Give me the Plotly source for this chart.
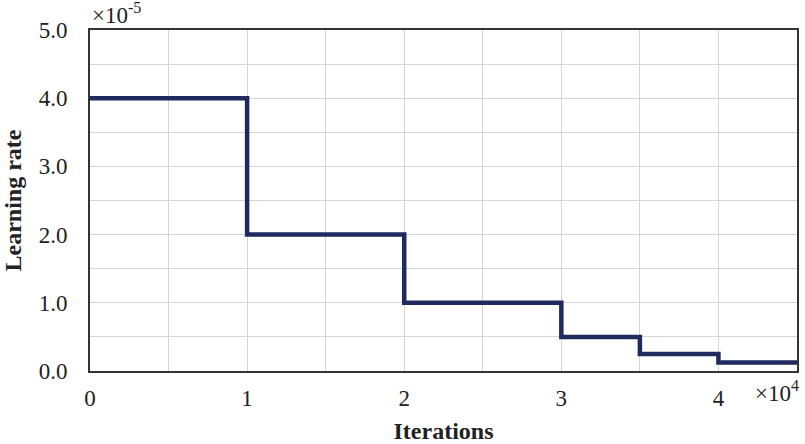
import plotly.graph_objects as go

# step schedule: learning rate halves at each milestone
iterations = [0, 10000, 20000, 30000, 35000, 40000, 45000]
learning_rate = [4.0e-5, 2.0e-5, 1.0e-5, 0.5e-5, 0.25e-5, 0.125e-5, 0.125e-5]

x_ticks = [0, 0.5, 1, 1.5, 2, 2.5, 3, 3.5, 4, 4.5]
x_labels = ['0', '', '1', '', '2', '', '3', '', '4', '']
y_ticks = [0, 0.5, 1, 1.5, 2, 2.5, 3, 3.5, 4, 4.5, 5]
y_labels = ['0.0', '', '1.0', '', '2.0', '', '3.0', '', '4.0', '', '5.0']

font = 'Liberation Serif, Times New Roman, serif'

fig = go.Figure()
fig.add_trace(go.Scatter(
    x=[v / 1e4 for v in iterations],
    y=[v / 1e-5 for v in learning_rate],
    mode='lines',
    line=dict(shape='hv', color='#1f2a5e', width=4.5),
    showlegend=False,
))

fig.update_layout(
    width=805, height=444,
    margin=dict(l=90, r=8, t=30, b=73),
    plot_bgcolor='white', paper_bgcolor='white',
    font=dict(family=font, size=23, color='#222'),
)
fig.update_xaxes(
    range=[0, 4.5], tickvals=x_ticks, ticktext=x_labels,
    showgrid=True, gridcolor='#d4d4d4', gridwidth=1,
    showline=True, linecolor='#333', linewidth=2, mirror=True,
    ticks='', ticklabelstandoff=5, zeroline=False, automargin=False,
    title=dict(text='<b>Iterations</b>', font=dict(size=24), standoff=13),
)
fig.update_yaxes(
    range=[0, 5], tickvals=y_ticks, ticktext=y_labels,
    showgrid=True, gridcolor='#d4d4d4', gridwidth=1,
    showline=True, linecolor='#333', linewidth=2, mirror=True,
    ticks='', ticklabelstandoff=16, zeroline=False, automargin=False,
    title=dict(text='<b>Learning rate</b>', font=dict(size=24), standoff=12),
)

fig.add_annotation(text='×10<sup>-5</sup>', xref='paper', yref='paper',
                   x=0, y=1, xanchor='left', yanchor='bottom', yshift=0,
                   showarrow=False, font=dict(size=23))
fig.add_annotation(text='×10<sup>4</sup>', xref='paper', yref='paper',
                   x=1, y=0, xanchor='right', yanchor='top', xshift=4, yshift=-4,
                   showarrow=False, font=dict(size=23))

# drop the default page margin so the figure sits at the window's corner
fig.write_html('out.html', config={'displayModeBar': False},
               post_script="document.body.style.margin='0';")
